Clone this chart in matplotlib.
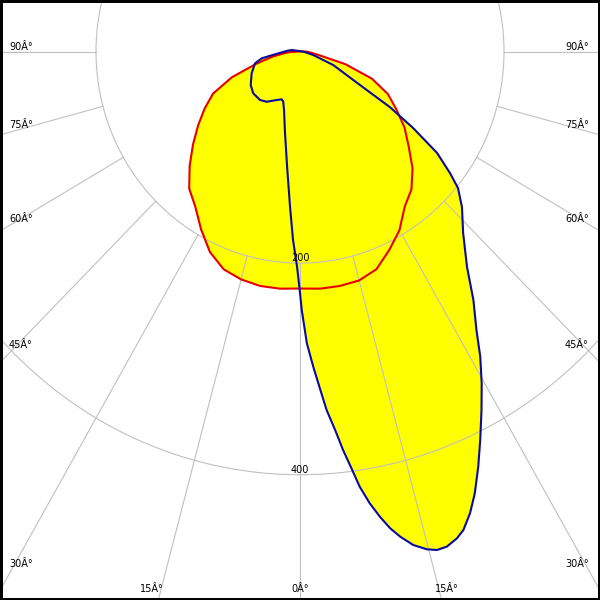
import matplotlib
matplotlib.use("Agg")
import matplotlib.pyplot as plt
import numpy as np

# ---- data: polar intensity distribution (gamma angle in degrees from nadir, value) ----
red_angles = [-90, -85, -80, -75, -70, -65, -60, -55, -50, -45, -40, -35, -30, -25, -20,
              -15, -10, -5, 0, 5, 10, 15, 20, 25, 30, 35, 40, 45, 50, 55, 60, 65, 70, 75,
              80, 85, 90]
red_values = [6, 14, 27, 44, 71, 94, 108, 122, 137, 153, 169, 179, 194, 209, 219,
              223, 225, 225, 224, 225, 225, 224, 219, 207, 195, 179, 170, 156, 139, 125,
              109, 95, 75, 46, 18, 10, 6]

blue_angles = [-100, -94, -90, -85, -83, -80.3, -75.8, -66.5, -56.7, -49.2, -40.6, -34.5,
               -26.5, -21.6, -19.1, -15.8, -10.8, -6.6, -3.8, -2.2, -0.8, 0, 0.4, 1.4, 2.5,
               3.5, 4.4, 5.5, 6.4, 7.3, 8.1, 9.1, 10.1, 11.1, 12.1, 13.4, 14.8, 15.9, 17.1,
               18.5, 19.5, 20.9, 22.3, 24.0, 25.7, 27.7, 29.6, 31.5, 33.3, 35.9, 38.8, 43.0,
               47.2, 50.2, 52.0, 54.5, 56.9, 59.2, 61.7, 68.6, 75.8, 86, 90]
blue_values = [8, 12, 15, 22, 27, 38, 45.5, 51.7, 57.8, 60.5, 60.3, 57.6,
               51.2, 48.6, 50.2, 57.5, 78.4, 109.9, 147.2, 178.2, 203.7, 228, 244.3, 275.9, 298.2,
               318.9, 339.8, 359.4, 379.1, 397.2, 415.5, 432.5, 446.6, 459.2, 469.0, 479.5, 486.6,
               489.9, 489.6, 485.1, 479.8, 467.2, 451.5, 429.6, 407.4, 382.8, 360.6, 338.2, 315.1,
               289.9, 261.3, 234.5, 216.4, 201.6, 186.6, 165.0, 132.3, 102.6, 66.8, 35.1, 13.4,
               4, 3]

ring_values = [200, 400]
ring_labels = ["200", "400"]
spoke_angles = [-90, -75, -60, -45, -30, -15, 0, 15, 30, 45, 60, 75, 90]
angle_labels = ["90Â°", "75Â°", "60Â°", "45Â°", "30Â°", "15Â°", "0Â°", "15Â°", "30Â°", "45Â°",
                "60Â°", "75Â°", "90Â°"]


def to_xy(angles, values):
    a = np.radians(np.asarray(angles, dtype=float))
    v = np.asarray(values, dtype=float)
    return v * np.sin(a), -v * np.cos(a)


fig = plt.figure(figsize=(6, 6), dpi=100)
ax = fig.add_axes([0, 0, 1, 1])
ax.set_xlim(-294.1, 294.1)
ax.set_ylim(-518.4, 48.7)
ax.set_aspect("auto")
ax.set_xticks([])
ax.set_yticks([])
for s in ax.spines.values():
    s.set_linewidth(3.6)
    s.set_color("black")
    s.set_zorder(10)

yellow = "#ffff00"
grid_c = "#c0c0c0"

# fills
rx, ry = to_xy(red_angles, red_values)
bx, by = to_xy(blue_angles, blue_values)
ax.fill(rx, ry, color=yellow, lw=0, zorder=1)
ax.fill(bx, by, color=yellow, lw=0, zorder=1)

# grid rings
t = np.linspace(0, 2 * np.pi, 721)
for rv in ring_values:
    ax.plot(rv * np.sin(t), rv * np.cos(t), color=grid_c, lw=0.8, zorder=2)

# spokes (start at the first ring)
for a in spoke_angles:
    sx, sy = to_xy([a, a], [ring_values[0], 900])
    ax.plot(sx, sy, color=grid_c, lw=0.8, zorder=2)

# curves
ax.plot(np.append(rx, rx[0]), np.append(ry, ry[0]), color="#e60000", lw=1.5, zorder=3,
        solid_joinstyle="round")
ax.plot(np.append(bx, bx[0]), np.append(by, by[0]), color="#0a0aa0", lw=1.5, zorder=4,
        solid_joinstyle="round")

# ring labels
for rv, lab in zip(ring_values, ring_labels):
    ax.text(0, -rv, lab, ha="center", va="bottom", fontsize=7, color="black", zorder=5)

# angle labels (pixel layout positions: left x, baseline y)
label_pos = [(9, 49.5), (9, 128), (9, 222), (9, 348), (9, 567), (140, 592), (291, 592),
             (435, 592), (565, 567), (565, 348), (565, 222), (565, 128), (565, 49.5)]
for lab, (px, py) in zip(angle_labels, label_pos):
    fig.text(px / 600, 1 - py / 600, lab, ha="left", va="baseline", fontsize=7,
             color="black")

fig.savefig("out.png", dpi=100)
